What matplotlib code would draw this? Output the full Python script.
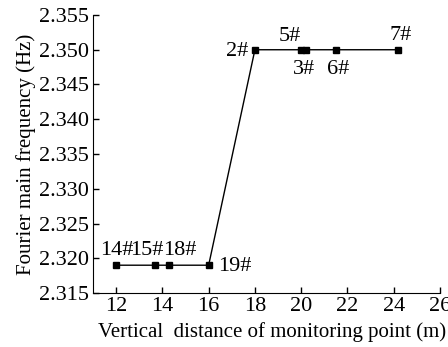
import matplotlib
matplotlib.use('Agg')
import matplotlib.pyplot as plt

# monitoring point data
distance = [12, 13.7, 14.3, 16, 18, 20, 20.2, 21.5, 24.2]
frequency = [2.319, 2.319, 2.319, 2.319, 2.350, 2.350, 2.350, 2.350, 2.350]
point_labels = ['14#', '15#', '18#', '19#', '2#', '5#', '3#', '6#', '7#']
# label placement: offset in points (dx, dy), horizontal / vertical alignment
label_offsets = [(-11.5, 7), (-18, 7), (-4.5, 7), (7, -1), (-5, -1), (-16.5, 6), (-9.5, -7.5), (-6.5, -7.5), (-6.5, 7)]
label_ha = ['left', 'left', 'left', 'left', 'right', 'left', 'left', 'left', 'left']
label_va = ['baseline', 'baseline', 'baseline', 'center', 'center', 'baseline', 'top', 'top', 'baseline']

plt.rcParams['font.family'] = 'Liberation Serif'
plt.rcParams['font.size'] = 16

fig = plt.figure(figsize=(4.48, 3.47), dpi=100)
ax = fig.add_axes([0.2076, 0.1556, 0.7744, 0.8012])

ax.plot(distance, frequency, color='black', linewidth=1, marker='s', markersize=5)
for x, y, lab, off, ha, va in zip(distance, frequency, point_labels, label_offsets, label_ha, label_va):
    ax.annotate(lab, (x, y), xytext=off, textcoords='offset points', ha=ha, va=va, fontsize=16)

ax.set_xlim(11, 26)
ax.set_ylim(2.315, 2.355)
ax.set_xticks([12, 14, 16, 18, 20, 22, 24, 26])
ax.set_yticks([2.315, 2.320, 2.325, 2.330, 2.335, 2.340, 2.345, 2.350, 2.355])
ax.yaxis.set_major_formatter(matplotlib.ticker.FormatStrFormatter('%.3f'))
ax.spines['top'].set_visible(False)
ax.spines['right'].set_visible(False)
ax.tick_params(direction='in', length=4, width=1, pad=3)
ax.set_xlabel('Vertical  distance of monitoring point (m)', fontsize=15, labelpad=0)
ax.xaxis.set_label_coords(0.515, -0.105)
ax.set_ylabel('Fourier main frequency (Hz)', fontsize=15, labelpad=2)

fig.savefig('out.png', dpi=100)
